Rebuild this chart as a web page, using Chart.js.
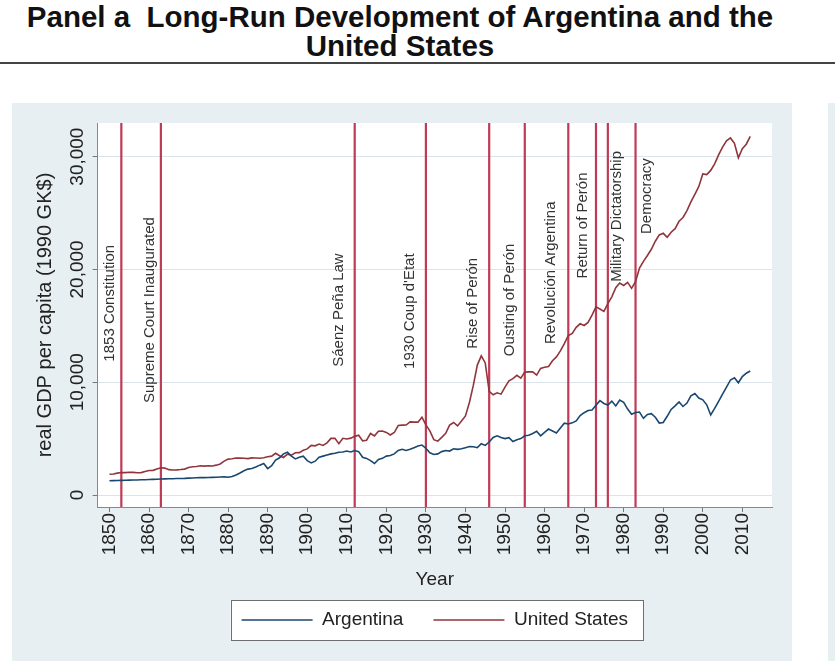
<!DOCTYPE html>
<html>
<head>
<meta charset="utf-8">
<script src="https://cdn.jsdelivr.net/npm/chart.js@4.4.1/dist/chart.umd.min.js"></script>
<style>
  body { margin: 0; width: 835px; height: 661px; overflow: hidden; background: #fff; position: relative;
         font-family: "Liberation Sans", Arial, sans-serif; }
  #title { position: absolute; left: 0; top: 2px; width: 800px; text-align: center; font-weight: bold;
           font-size: 29.5px; line-height: 29px; color: #111; }
  #rule { position: absolute; left: 0; top: 62px; width: 835px; height: 2px; background: #444; }
  #panel { position: absolute; left: 12px; top: 103px; width: 780px; height: 558px; background: #e8eff2; }
  #nextPanel { position: absolute; left: 828px; top: 103px; width: 7px; height: 558px; background: #e8eff2; }
</style>
</head>
<body>
<div id="title">Panel a&nbsp; Long-Run Development of Argentina and the<br>United States</div>
<div id="rule"></div>
<div id="panel"><canvas id="grafico" width="780" height="558"></canvas></div>
<div id="nextPanel"></div>
<script>
// real GDP per capita, 1990 GK$, one value a year from 1850 to 2012
const firstYear = 1850

const argentina = [
  1270, 1280, 1290, 1300, 1310, 1320, 1330, 1340, 1350, 1360,   // 1850s
  1380, 1390, 1400, 1420, 1430, 1440, 1450, 1460, 1470, 1480,   // 1860s
  1500, 1510, 1530, 1550, 1540, 1560, 1570, 1580, 1600, 1610,   // 1870s
  1580, 1640, 1780, 1950, 2150, 2300, 2350, 2480, 2650, 2800,   // 1880s
  2350, 2600, 3100, 3300, 3650, 3800, 3450, 3200, 3350, 3450,   // 1890s
  3050, 2850, 3000, 3350, 3450, 3550, 3650, 3700, 3800, 3820,   // 1900s
  3900, 3820, 3950, 3850, 3350, 3250, 3050, 2800, 3150, 3250,   // 1910s
  3450, 3500, 3650, 3950, 4050, 3950, 4050, 4200, 4350, 4430,   // 1920s
  4150, 3750, 3600, 3650, 3850, 3950, 3900, 4100, 4050, 4100,   // 1930s
  4200, 4300, 4280, 4200, 4550, 4400, 4700, 5100, 5250, 5100,   // 1940s
  5000, 5080, 4750, 4900, 5000, 5250, 5300, 5450, 5650, 5250,   // 1950s
  5560, 5850, 5680, 5500, 5950, 6370, 6300, 6400, 6570, 7040,   // 1960s
  7300, 7500, 7540, 7960, 8370, 8120, 7980, 8330, 7900, 8410,   // 1970s
  8210, 7620, 7170, 7320, 7360, 6800, 7150, 7210, 6900, 6380,   // 1980s
  6430, 6980, 7590, 7910, 8260, 7850, 8150, 8790, 9000, 8600,   // 1990s
  8440, 8000, 7100, 7680, 8300, 8950, 9560, 10200, 10400, 9950, // 2000s
  10500, 10800, 11000                                           // 2010-2012
]

const unitedStates = [
  1849, 1870, 1943, 2004, 1990, 2020, 2010, 1970, 1990, 2090,
  2178, 2190, 2310, 2420, 2390, 2250, 2220, 2230, 2260, 2300,
  2445, 2503, 2524, 2599, 2567, 2599, 2573, 2650, 2751, 3009,
  3184, 3214, 3281, 3270, 3266, 3226, 3296, 3290, 3257, 3306,
  3392, 3447, 3698, 3487, 3331, 3629, 3533, 3753, 3761, 3968,
  4091, 4399, 4364, 4517, 4398, 4625, 5022, 5038, 4558, 5027,
  4964, 5046, 5201, 5301, 4799, 4864, 5459, 5248, 5659, 5680,
  5552, 5323, 5540, 6164, 6195, 6205, 6481, 6466, 6461, 6899,
  6213, 5691, 4908, 4777, 5114, 5467, 6204, 6430, 6126, 6561,
  7010, 8206, 9741, 11518, 12333, 11709, 9197, 8886, 9065, 8944,
  9561, 10116, 10316, 10613, 10359, 10897, 10914, 10920, 10631, 11230,
  11328, 11402, 11905, 12242, 12773, 13419, 14134, 14330, 14863, 15179,
  15030, 15304, 15944, 16689, 16491, 16284, 16975, 17567, 18373, 18789,
  18577, 18856, 18325, 18920, 20123, 20717, 21236, 21788, 22499, 23059,
  23201, 22849, 23298, 23616, 24267, 24604, 25215, 25986, 26660, 27360,
  28467, 28403, 28779, 29361, 30158, 30842, 31408, 31655, 31178, 29899,
  30700, 31100, 31800
]

const xTickYears = [1850, 1860, 1870, 1880, 1890, 1900, 1910, 1920, 1930, 1940,
                    1950, 1960, 1970, 1980, 1990, 2000, 2010]
const yTickValues = [0, 10000, 20000, 30000]

const eventYears = [1853, 1863, 1912, 1930, 1946, 1955, 1966, 1973, 1976, 1983]
const eventLabels = ['1853 Constitution', 'Supreme Court Inaugurated', 'Sáenz Peña Law',
                     "1930 Coup d'Etat", 'Rise of Perón', 'Ousting of Perón',
                     'Revolución Argentina', 'Return of Perón', 'Military Dictatorship', 'Democracy']

/* where the event labels sit: pixel shift from the line and the value at their middle */
const labelShift = [-11, -11, -16, -16, -16, -15, -17, -13, 9, 11]
const labelMid = [17000, 16400, 16400, 16300, 17000, 17300, 19700, 23900, 24700, 26500]

const fonte = '"Liberation Sans", Arial, sans-serif'
const corTexto = '#222'

function pontos(serie) {
    return serie.map((v, i) => ({ x: firstYear + i, y: v }))
}

/* fundo branco da area do grafico + caixa da legenda */
const fundo = {
    id: 'fundo',
    afterLayout(chart) {
        // legenda centrada sob a area do grafico, nao sob o canvas todo
        const a = chart.chartArea
        const leg = chart.legend
        const desvio = (a.left + a.right) / 2 - (leg.left + leg.right) / 2
        leg.left += desvio
        leg.right += desvio
    },
    beforeDraw(chart) {
        const { ctx, chartArea: a } = chart
        ctx.save()
        ctx.fillStyle = '#fff'
        ctx.fillRect(a.left, a.top, a.right - a.left, a.bottom - a.top)
        const caixas = chart.legend.legendHitBoxes
        if (caixas && caixas.length) {
            const primeira = caixas[0]
            const ultima = caixas[caixas.length - 1]
            const x0 = primeira.left - 11
            const x1 = ultima.left + ultima.width + 15
            const y0 = primeira.top - 10.5
            const y1 = primeira.top + primeira.height + 10.5
            ctx.fillRect(x0, y0, x1 - x0, y1 - y0)
            ctx.strokeStyle = '#6f6f6f'
            ctx.lineWidth = 1
            ctx.strokeRect(Math.round(x0) + 0.5, Math.round(y0) + 0.5, Math.round(x1 - x0), Math.round(y1 - y0))
        }
        ctx.restore()
    }
}

/* linhas verticais dos eventos e seus textos */
const eventos = {
    id: 'eventos',
    beforeDatasetsDraw(chart) {
        const { ctx, chartArea: a, scales: { x, y } } = chart
        ctx.save()
        ctx.strokeStyle = '#bf3a55'
        ctx.lineWidth = 2.2
        eventYears.forEach(ano => {
            const px = x.getPixelForValue(ano)
            ctx.beginPath()
            ctx.moveTo(px, a.top)
            ctx.lineTo(px, a.bottom)
            ctx.stroke()
        })
        ctx.fillStyle = '#333'
        ctx.font = '15px ' + fonte
        ctx.textAlign = 'center'
        ctx.textBaseline = 'middle'
        eventLabels.forEach((texto, i) => {
            const px = x.getPixelForValue(eventYears[i]) + labelShift[i]
            const py = y.getPixelForValue(labelMid[i])
            ctx.save()
            ctx.translate(px, py)
            ctx.rotate(-Math.PI / 2)
            ctx.fillText(texto, 0, 0)
            ctx.restore()
        })
        ctx.restore()
    }
}

const grafico = new Chart(document.querySelector('#grafico'), {
    type: 'line',
    data: {
        datasets: [{
            label: 'Argentina',
            data: pontos(argentina),
            borderColor: 'rgb(26,71,111)',
            backgroundColor: 'rgb(26,71,111)',
            borderWidth: 1.6,
            pointRadius: 0
        }, {
            label: 'United States',
            data: pontos(unitedStates),
            borderColor: 'rgb(144,53,59)',
            backgroundColor: 'rgb(144,53,59)',
            borderWidth: 1.6,
            pointRadius: 0
        }]
    },
    options: {
        responsive: false,
        animation: false,
        layout: { padding: { left: 17.6, right: 20, top: 20, bottom: 21.5 } },
        scales: {
            x: {
                type: 'linear',
                min: 1847,
                max: 2017.5,
                afterBuildTicks: s => { s.ticks = xTickYears.map(v => ({ value: v })) },
                afterFit: s => { s.height = 73.5 },
                grid: { drawOnChartArea: false, tickLength: 5, tickColor: '#777' },
                border: { color: '#888' },
                ticks: {
                    minRotation: 90, maxRotation: 90, padding: 1,
                    font: { family: fonte, size: 19 }, color: corTexto,
                    callback: v => String(v)
                },
                title: {
                    display: true, text: 'Year', color: corTexto,
                    font: { family: fonte, size: 19 }, padding: { top: 0, bottom: -11 }
                }
            },
            y: {
                min: -1060,
                max: 32980,
                afterBuildTicks: s => { s.ticks = yTickValues.map(v => ({ value: v })) },
                afterFit: s => { s.width = 68 },
                grid: { color: '#dbe4e8', tickLength: 5, tickColor: '#777' },
                border: { color: '#888' },
                ticks: {
                    minRotation: 90, crossAlign: 'center', padding: -14,
                    font: { family: fonte, size: 19 }, color: corTexto,
                    callback: v => v.toLocaleString('en-US')
                },
                title: {
                    display: true, text: 'real GDP per capita (1990 GK$)', color: corTexto,
                    font: { family: fonte, size: 20 }, padding: { top: 4, bottom: 4 }
                }
            }
        },
        plugins: {
            legend: {
                position: 'bottom',
                labels: {
                    usePointStyle: true, pointStyle: 'line', pointStyleWidth: 71,
                    padding: 30, color: corTexto, font: { family: fonte, size: 19 }
                }
            },
            tooltip: { enabled: false }
        }
    },
    plugins: [fundo, eventos]
})
</script>
</body>
</html>
